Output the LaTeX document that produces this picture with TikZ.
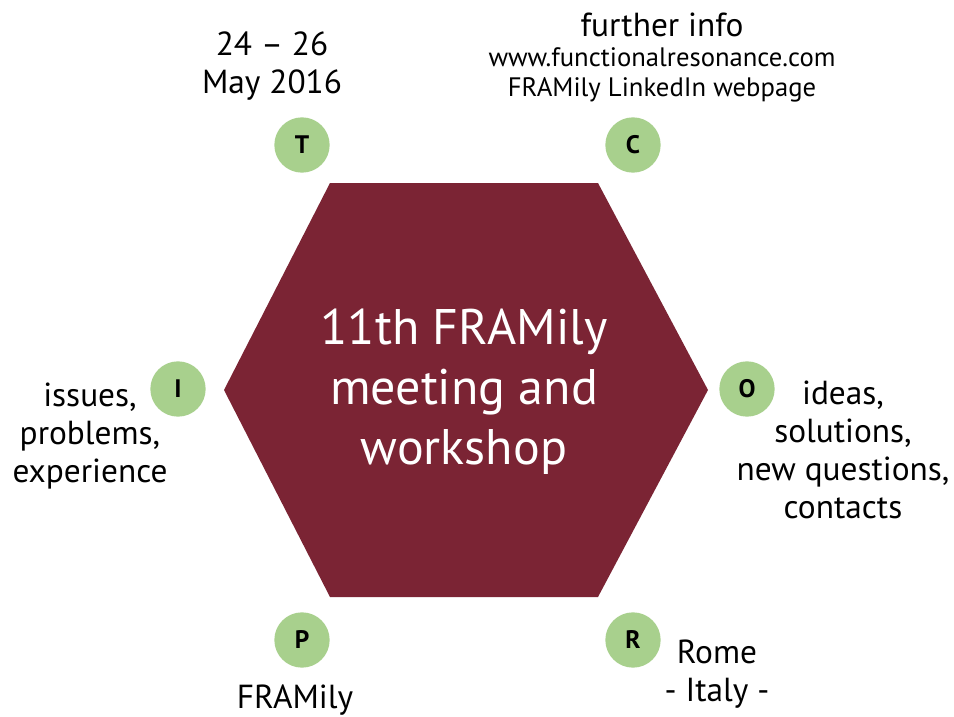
\documentclass[tikz,border=0pt]{standalone}
\usepackage{fontspec}
\setmainfont{PT Sans}
\definecolor{framred}{HTML}{7B2434}
\definecolor{framgreen}{HTML}{A8D08D}
\begin{document}
\begin{tikzpicture}[x=0.75pt,y=-0.75pt,
  aspect/.style={circle, fill=framgreen, minimum size=41.5pt, inner sep=0pt, font=\fontsize{19}{22}\selectfont\bfseries},
  note/.style={align=center, inner sep=0pt, font=\fontsize{25}{28.5}\selectfont}]
\useasboundingbox (0,0) rectangle (954,717);
\fill[framred] (224,390) -- (330,183) -- (598,183) -- (708,390) -- (598,597) -- (330,597) -- cycle;
\node[align=center, text=white, font=\fontsize{37.5}{45}\selectfont] (fun) at (464,392) {11th FRAMily\\meeting and\\workshop};
\node[aspect] (cT) at (302,145) {T};
\node[aspect] (cC) at (633,145) {C};
\node[aspect] (cI) at (178,389) {I};
\node[aspect] (cO) at (747,389) {O};
\node[aspect] (cP) at (302,640) {P};
\node[aspect] (cR) at (633,640) {R};
\node[note] (lT) at (272,66) {24 -- 26\\May 2016};
\node[note] (lC) at (662,25) {further info};
\node[note, font=\fontsize{20}{22}\selectfont] (lC2) at (662,75) {www.functionalresonance.com\\FRAMily LinkedIn webpage};
\node[note] (lI) at (90,436) {issues,\\problems,\\experience};
\node[note] (lO) at (843,450) {ideas,\\solutions,\\new questions,\\contacts};
\node[note] (lR) at (717,674) {Rome\\- Italy -};
\node[note] (lP) at (295,700) {FRAMily};
\end{tikzpicture}
\end{document}
